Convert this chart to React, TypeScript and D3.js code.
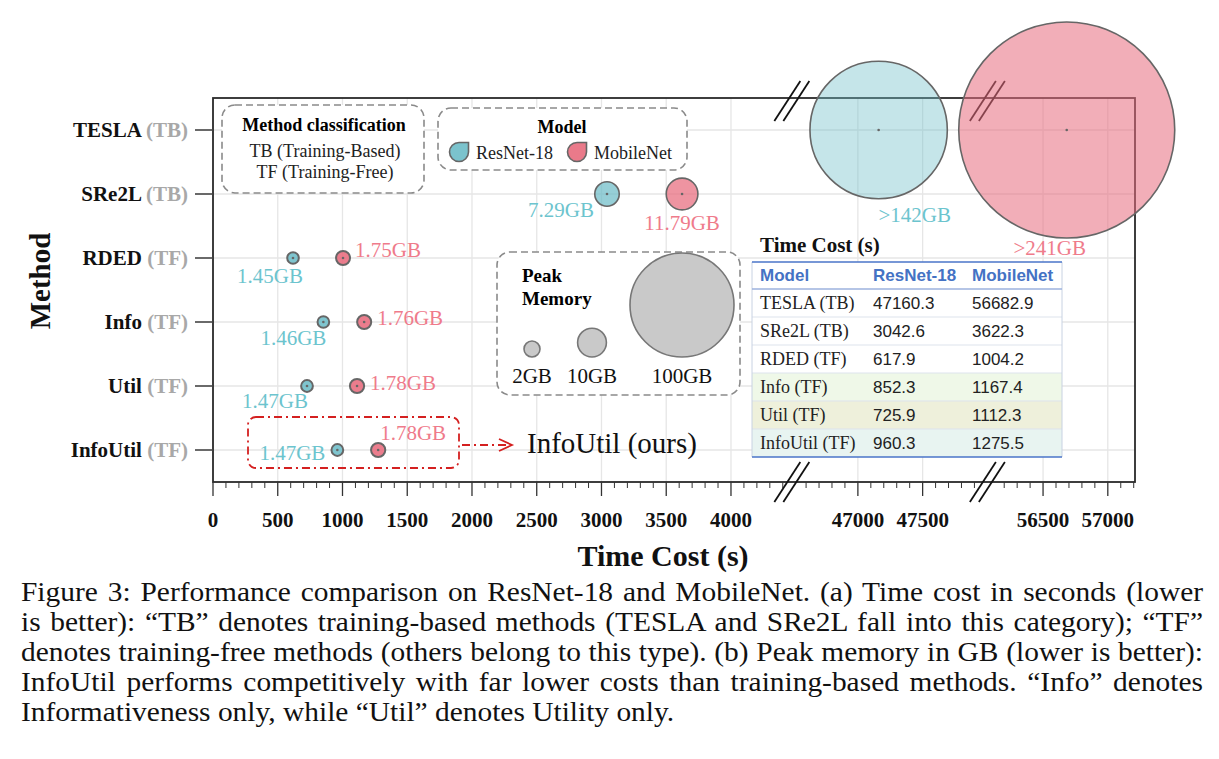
import { useRef, useEffect } from "react";
import * as d3 from "d3";

// Methods (top to bottom) and their family
const METHODS = ["TESLA", "SRe2L", "RDED", "Info", "Util", "InfoUtil"];
const METHOD_TYPES = ["TB", "TB", "TF", "TF", "TF", "TF"];

// Time cost in seconds
const RESNET_TIME = [47160.3, 3042.6, 617.9, 852.3, 725.9, 960.3];
const MOBILENET_TIME = [56682.9, 3622.3, 1004.2, 1167.4, 1112.3, 1275.5];

// Peak memory in GB
const RESNET_MEM = [142, 7.29, 1.45, 1.46, 1.47, 1.47];
const MOBILENET_MEM = [241, 11.79, 1.75, 1.76, 1.78, 1.78];
const MEM_LOWER_BOUND = [true, false, false, false, false, false];

// Broken x axis: visible ranges and ticks
const X_SEGMENTS: [number, number][] = [
  [0, 4470],
  [46490, 48000],
  [56070, 57210],
];
const X_TICKS = [0, 500, 1000, 1500, 2000, 2500, 3000, 3500, 4000, 47000, 47500, 56500, 57000];

const LEGEND_SIZES = [2, 10, 100];

const CAPTION = [
  "Figure 3: Performance comparison on ResNet-18 and MobileNet. (a) Time cost in seconds (lower",
  "is better): \u201cTB\u201d denotes training-based methods (TESLA and SRe2L fall into this category); \u201cTF\u201d",
  "denotes training-free methods (others belong to this type). (b) Peak memory in GB (lower is better):",
  "InfoUtil performs competitively with far lower costs than training-based methods. \u201cInfo\u201d denotes",
  "Informativeness only, while \u201cUtil\u201d denotes Utility only.",
];

// annotation placement relative to each bubble: [dx, dy, anchor]
type Offset = [number, number, string];
const RESNET_LABEL_POS: Offset[] = [
  [36, 92, "middle"],
  [-46, 23, "middle"],
  [-23, 25, "middle"],
  [-30, 23, "middle"],
  [-32, 22, "middle"],
  [-12, 10, "end"],
];
const MOBILENET_LABEL_POS: Offset[] = [
  [-17, 125, "middle"],
  [0, 36, "middle"],
  [12, -1, "start"],
  [13, 3, "start"],
  [13, 4, "start"],
  [2, -10, "start"],
];

const ROW_FILLS = ["#ffffff", "#ffffff", "#ffffff", "#eff8e8", "#eef0db", "#e8f4f1"];

const SERIF = "'Liberation Serif', 'Times New Roman', serif";
const SANS = "'Liberation Sans', Arial, sans-serif";

export default function App() {
  const svgRef = useRef<SVGSVGElement>(null);

  useEffect(() => {
    if (!svgRef.current) return;
    document.body.style.margin = "0";

    const W = 1219;
    const H = 759;
    const plot = { left: 213, right: 1135, top: 98, bottom: 482 };

    const svg = d3.select(svgRef.current);
    svg.selectAll("*").remove();
    svg.attr("width", W).attr("height", H);
    svg.append("rect").attr("width", W).attr("height", H).attr("fill", "#fff");

    // Piecewise x scale stitched from the three segments
    const spans = X_SEGMENTS.map(([a, b]) => b - a);
    const k = (plot.right - plot.left) / d3.sum(spans);
    const breaks: number[] = [];
    let acc = plot.left;
    spans.forEach((s) => {
      acc += s * k;
      breaks.push(acc);
    });
    const x = d3
      .scaleLinear()
      .domain(X_SEGMENTS.flat())
      .range([plot.left, breaks[0], breaks[0], breaks[1], breaks[1], plot.right]);
    const cuts = breaks.slice(0, 2);

    const y = d3
      .scalePoint<string>()
      .domain(METHODS)
      .range([plot.top, plot.bottom])
      .padding(0.5);

    const r = d3.scaleLinear().domain([0, 2, 12, 100, 241]).range([0, 8, 16, 52, 108]);

    const g = svg.append("g");

    // Grid
    g.selectAll(".hgrid")
      .data(METHODS)
      .enter()
      .append("line")
      .attr("x1", plot.left)
      .attr("x2", plot.right)
      .attr("y1", (d) => y(d)!)
      .attr("y2", (d) => y(d)!)
      .attr("stroke", "#e6e6e6")
      .attr("stroke-width", 1.3);
    g.selectAll(".vgrid")
      .data(X_TICKS)
      .enter()
      .append("line")
      .attr("x1", (d) => x(d))
      .attr("x2", (d) => x(d))
      .attr("y1", plot.top)
      .attr("y2", plot.bottom)
      .attr("stroke", "#e6e6e6")
      .attr("stroke-width", 1.3);

    // Frame
    g.append("rect")
      .attr("x", plot.left)
      .attr("y", plot.top)
      .attr("width", plot.right - plot.left)
      .attr("height", plot.bottom - plot.top)
      .attr("fill", "none")
      .attr("stroke", "#2a2a2a")
      .attr("stroke-width", 1.8);

    // Minor ticks every 100 s inside each segment
    const minor: number[] = [];
    X_SEGMENTS.forEach(([a, b]) => {
      d3.range(Math.ceil(a / 100) * 100, b, 100).forEach((v) => {
        if (v % 500 !== 0 && Math.abs(x(v) - cuts[0]) > 4 && Math.abs(x(v) - cuts[1]) > 4) minor.push(v);
      });
    });
    g.selectAll(".minor")
      .data(minor)
      .enter()
      .append("line")
      .attr("x1", (d) => x(d))
      .attr("x2", (d) => x(d))
      .attr("y1", plot.bottom)
      .attr("y2", plot.bottom + 6)
      .attr("stroke", "#333")
      .attr("stroke-width", 1);
    g.selectAll(".major")
      .data(X_TICKS)
      .enter()
      .append("line")
      .attr("x1", (d) => x(d))
      .attr("x2", (d) => x(d))
      .attr("y1", plot.bottom)
      .attr("y2", plot.bottom + 14)
      .attr("stroke", "#333")
      .attr("stroke-width", 1.3);
    g.selectAll(".xlabel")
      .data(X_TICKS)
      .enter()
      .append("text")
      .attr("x", (d) => x(d))
      .attr("y", 527)
      .attr("text-anchor", "middle")
      .attr("font-family", SERIF)
      .attr("font-weight", "bold")
      .attr("font-size", 21)
      .attr("fill", "#111")
      .text((d) => String(d));

    // Y ticks and labels
    g.selectAll(".ytick")
      .data(METHODS)
      .enter()
      .append("line")
      .attr("x1", plot.left - 18)
      .attr("x2", plot.left)
      .attr("y1", (d) => y(d)!)
      .attr("y2", (d) => y(d)!)
      .attr("stroke", "#444")
      .attr("stroke-width", 1.6);
    const yl = g
      .selectAll(".ylabel")
      .data(METHODS)
      .enter()
      .append("text")
      .attr("x", 188)
      .attr("y", (d) => y(d)! + 7)
      .attr("text-anchor", "end")
      .attr("font-family", SERIF)
      .attr("font-weight", "bold")
      .attr("font-size", 21);
    yl.append("tspan").attr("fill", "#111").text((d) => d);
    yl.append("tspan")
      .attr("fill", "#a8a8a8")
      .text((_, i) => ` (${METHOD_TYPES[i]})`);

    // Axis titles
    g.append("text")
      .attr("x", 663)
      .attr("y", 566)
      .attr("text-anchor", "middle")
      .attr("font-family", SERIF)
      .attr("font-weight", "bold")
      .attr("font-size", 30)
      .attr("fill", "#111")
      .text("Time Cost (s)");
    g.append("text")
      .attr("transform", "translate(50,281) rotate(-90)")
      .attr("text-anchor", "middle")
      .attr("font-family", SERIF)
      .attr("font-weight", "bold")
      .attr("font-size", 29)
      .attr("fill", "#111")
      .text("Method");

    // Break markers on top and bottom spines
    const brk = g.append("g").attr("stroke", "#111").attr("stroke-width", 1.8);
    cuts.forEach((cx) => {
      [plot.top + 3, plot.bottom].forEach((cy) => {
        [-4.5, 4.5].forEach((o) => {
          brk
            .append("line")
            .attr("x1", cx - 13 + o)
            .attr("y1", cy + 20)
            .attr("x2", cx + 13 + o)
            .attr("y2", cy - 20);
        });
      });
    });

    // Legend boxes
    const dashedBox = (x0: number, y0: number, w: number, h: number) =>
      g
        .append("rect")
        .attr("x", x0)
        .attr("y", y0)
        .attr("width", w)
        .attr("height", h)
        .attr("rx", 13)
        .attr("fill", "#fff")
        .attr("stroke", "#8a8a8a")
        .attr("stroke-width", 1.6)
        .attr("stroke-dasharray", "7,4");

    dashedBox(222, 105, 202, 88);
    g.append("text")
      .attr("x", 324)
      .attr("y", 131)
      .attr("text-anchor", "middle")
      .attr("font-family", SERIF)
      .attr("font-weight", "bold")
      .attr("font-size", 18)
      .text("Method classification");
    ["TB (Training-Based)", "TF (Training-Free)"].forEach((t, i) => {
      g.append("text")
        .attr("x", 325)
        .attr("y", 157 + i * 21)
        .attr("text-anchor", "middle")
        .attr("font-family", SERIF)
        .attr("font-size", 18)
        .attr("fill", "#222")
        .text(t);
    });

    const models = [
      {
        name: "ResNet-18",
        times: RESNET_TIME,
        mems: RESNET_MEM,
        color: "#6dbdc8",
        text: "#6cc4ce",
        bigOpacity: 0.4,
        pos: RESNET_LABEL_POS,
      },
      {
        name: "MobileNet",
        times: MOBILENET_TIME,
        mems: MOBILENET_MEM,
        color: "#e86b7d",
        text: "#ef7b8b",
        bigOpacity: 0.55,
        pos: MOBILENET_LABEL_POS,
      },
    ];

    dashedBox(438, 108, 249, 62);
    g.append("text")
      .attr("x", 562)
      .attr("y", 133)
      .attr("text-anchor", "middle")
      .attr("font-family", SERIF)
      .attr("font-weight", "bold")
      .attr("font-size", 18)
      .text("Model");
    const drop = (cx: number, cy: number, rr: number) =>
      `M${cx},${cy - rr}L${cx + rr},${cy - rr}L${cx + rr},${cy}A${rr},${rr} 0 1 1 ${cx},${cy - rr}Z`;
    models.forEach((m, i) => {
      const cx = 459 + i * 118;
      g.append("path")
        .attr("d", drop(cx, 152, 9.5))
        .attr("fill", m.color)
        .attr("fill-opacity", 0.9)
        .attr("stroke", "#666")
        .attr("stroke-width", 1.6);
      g.append("text")
        .attr("x", cx + 17)
        .attr("y", 159)
        .attr("font-family", SERIF)
        .attr("font-size", 18)
        .attr("fill", "#222")
        .text(m.name);
    });

    // Peak memory legend
    dashedBox(497, 252, 243, 143);
    ["Peak", "Memory"].forEach((t, i) => {
      g.append("text")
        .attr("x", 522)
        .attr("y", 282 + i * 23)
        .attr("font-family", SERIF)
        .attr("font-weight", "bold")
        .attr("font-size", 19)
        .text(t);
    });
    const legendX = [532, 592, 682];
    LEGEND_SIZES.forEach((s, i) => {
      g.append("circle")
        .attr("cx", legendX[i])
        .attr("cy", 357 - r(s))
        .attr("r", r(s))
        .attr("fill", "#c9c9c9")
        .attr("stroke", "#777")
        .attr("stroke-width", 1.6);
      g.append("text")
        .attr("x", legendX[i])
        .attr("y", 383)
        .attr("text-anchor", "middle")
        .attr("font-family", SERIF)
        .attr("font-size", 21)
        .attr("fill", "#111")
        .text(`${s}GB`);
    });

    // Bubbles
    models.forEach((m) => {
      const pts = METHODS.map((name, i) => ({
        name,
        t: m.times[i],
        mem: m.mems[i],
        i,
      }));
      const bg = g.append("g");
      bg.selectAll("circle.bubble")
        .data(pts)
        .enter()
        .append("circle")
        .attr("cx", (d) => x(d.t))
        .attr("cy", (d) => y(d.name)!)
        .attr("r", (d) => r(d.mem))
        .attr("fill", m.color)
        .attr("fill-opacity", (d) => (d.mem > 100 ? m.bigOpacity : d.mem > 5 ? 0.72 : 0.88))
        .attr("stroke", "#666")
        .attr("stroke-width", (d) => (d.mem > 5 ? 1.6 : 2));
      bg.selectAll("circle.dot")
        .data(pts)
        .enter()
        .append("circle")
        .attr("cx", (d) => x(d.t))
        .attr("cy", (d) => y(d.name)!)
        .attr("r", 1.3)
        .attr("fill", "#666");
      bg.selectAll("text")
        .data(pts)
        .enter()
        .append("text")
        .attr("x", (d) => x(d.t) + m.pos[d.i][0])
        .attr("y", (d) => y(d.name)! + m.pos[d.i][1])
        .attr("text-anchor", (d) => m.pos[d.i][2])
        .attr("font-family", SERIF)
        .attr("font-size", 21)
        .attr("fill", m.text)
        .text((d) => `${MEM_LOWER_BOUND[d.i] ? ">" : ""}${d.mem}GB`);
    });

    // Highlight of our method
    const red = "#d42020";
    g.append("rect")
      .attr("x", 248)
      .attr("y", 417)
      .attr("width", 211)
      .attr("height", 51)
      .attr("rx", 8)
      .attr("fill", "none")
      .attr("stroke", red)
      .attr("stroke-width", 1.8)
      .attr("stroke-dasharray", "8,4,2,4");
    g.append("line")
      .attr("x1", 462)
      .attr("x2", 511)
      .attr("y1", 445)
      .attr("y2", 445)
      .attr("stroke", red)
      .attr("stroke-width", 1.8)
      .attr("stroke-dasharray", "8,4,2,4");
    g.append("path")
      .attr("d", "M499,439L512,445L499,451")
      .attr("fill", "none")
      .attr("stroke", red)
      .attr("stroke-width", 1.8);
    g.append("text")
      .attr("x", 527)
      .attr("y", 453)
      .attr("font-family", SERIF)
      .attr("font-size", 29)
      .attr("fill", "#111")
      .text("InfoUtil (ours)");

    // Time-cost table
    const tx = 752;
    const tw = 310;
    const cols = [760, 873, 972];
    const headTop = 262;
    const headH = 27;
    const rowH = 28;
    g.append("text")
      .attr("x", 760)
      .attr("y", 252)
      .attr("font-family", SERIF)
      .attr("font-weight", "bold")
      .attr("font-size", 21)
      .attr("fill", "#111")
      .text("Time Cost (s)");
    g.append("rect")
      .attr("x", tx)
      .attr("y", headTop)
      .attr("width", tw)
      .attr("height", headH)
      .attr("fill", "#fff");
    METHODS.forEach((name, i) => {
      const top = headTop + headH + i * rowH;
      g.append("rect")
        .attr("x", tx)
        .attr("y", top)
        .attr("width", tw)
        .attr("height", rowH)
        .attr("fill", ROW_FILLS[i]);
      if (i > 0)
        g.append("line")
          .attr("x1", tx)
          .attr("x2", tx + tw)
          .attr("y1", top)
          .attr("y2", top)
          .attr("stroke", "#dde3ec")
          .attr("stroke-width", 1);
      const base = top + 20;
      g.append("text")
        .attr("x", cols[0])
        .attr("y", base)
        .attr("font-family", SERIF)
        .attr("font-size", 18)
        .attr("fill", "#222")
        .text(`${name} (${METHOD_TYPES[i]})`);
      [RESNET_TIME[i], MOBILENET_TIME[i]].forEach((v, j) => {
        g.append("text")
          .attr("x", cols[j + 1])
          .attr("y", base)
          .attr("font-family", SANS)
          .attr("font-size", 17)
          .attr("fill", "#222")
          .text(v.toFixed(1));
      });
    });
    const tableBottom = headTop + headH + METHODS.length * rowH;
    ["Model", "ResNet-18", "MobileNet"].forEach((t, j) => {
      g.append("text")
        .attr("x", cols[j])
        .attr("y", headTop + 19)
        .attr("font-family", SANS)
        .attr("font-weight", "bold")
        .attr("font-size", 17)
        .attr("fill", "#4472c4")
        .text(t);
    });
    [tx, tx + tw].forEach((vx) => {
      g.append("line")
        .attr("x1", vx)
        .attr("x2", vx)
        .attr("y1", headTop)
        .attr("y2", tableBottom)
        .attr("stroke", "#c8d2e2")
        .attr("stroke-width", 1);
    });
    g.append("line")
      .attr("x1", tx)
      .attr("x2", tx + tw)
      .attr("y1", headTop + headH)
      .attr("y2", headTop + headH)
      .attr("stroke", "#9db2de")
      .attr("stroke-width", 1.5);
    [headTop, tableBottom].forEach((ly) => {
      g.append("line")
        .attr("x1", tx)
        .attr("x2", tx + tw)
        .attr("y1", ly)
        .attr("y2", ly)
        .attr("stroke", "#4a74c9")
        .attr("stroke-width", 1.6);
    });

    // Caption, justified except for the last line (set slightly wide)
    const capLeft = 21;
    const capRight = 1203;
    const stretch = 1.09;
    const cap = g.append("g").attr("transform", `translate(${capLeft},0) scale(${stretch},1)`);
    CAPTION.forEach((line, i) => {
      const t = cap
        .append("text")
        .attr("x", 0)
        .attr("y", 601 + i * 30)
        .attr("font-family", SERIF)
        .attr("font-size", 27)
        .attr("fill", "#111")
        .text(line);
      if (i < CAPTION.length - 1) {
        const node = t.node() as SVGTextElement;
        const natural = node.getComputedTextLength();
        const gaps = line.split(" ").length - 1;
        const target = (capRight - capLeft) / stretch;
        if (gaps > 0) t.attr("word-spacing", (target - natural) / gaps);
      }
    });
  }, []);

  return <svg ref={svgRef} style={{ display: "block" }} />;
}
